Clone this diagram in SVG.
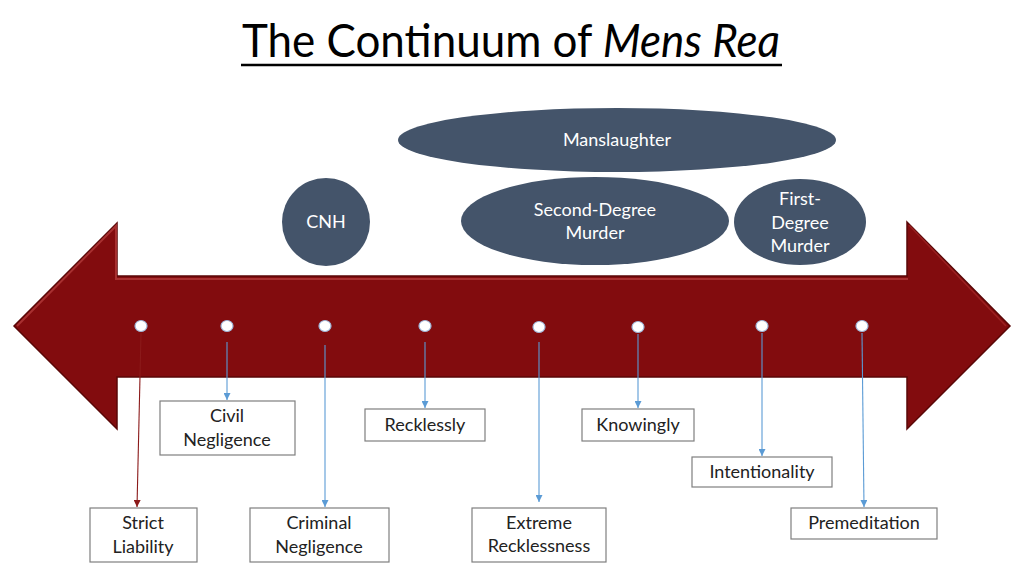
<svg xmlns="http://www.w3.org/2000/svg" width="1024" height="576" viewBox="0 0 1024 576">
<defs>
<style>
.t{font-family:Lato,"Open Sans","Liberation Sans",sans-serif;font-size:18px;text-anchor:middle;}
.w{fill:#ffffff;}
.k{fill:#222222;}
.box{fill:#ffffff;stroke:#7f7f7f;stroke-width:1.2;}
.ell{fill:#44546a;}
.dot{fill:#ffffff;stroke:#9fb6d8;stroke-width:1.2;}
.c{stroke:#5b9bd5;stroke-width:1.1;fill:none;marker-end:url(#ab);}
.cr{stroke:#8b1a1a;stroke-width:1.1;fill:none;marker-end:url(#ar);}
</style>
<marker id="ab" viewBox="0 0 10 10" refX="10" refY="5" markerWidth="7" markerHeight="7" orient="auto" markerUnits="userSpaceOnUse"><path d="M0,0 L10,5 L0,10 z" fill="#5b9bd5"/></marker>
<marker id="ar" viewBox="0 0 10 10" refX="10" refY="5" markerWidth="7" markerHeight="7" orient="auto" markerUnits="userSpaceOnUse"><path d="M0,0 L10,5 L0,10 z" fill="#8b1a1a"/></marker>
</defs>
<rect width="1024" height="576" fill="#ffffff"/>
<g id="title">
<text x="511" y="57" font-family="Lato,'Open Sans','Liberation Sans',sans-serif" font-size="46" fill="#000" text-anchor="middle" textLength="538" lengthAdjust="spacingAndGlyphs">The Continuum of <tspan font-style="italic">Mens Rea</tspan></text>
<line x1="241" y1="65" x2="782" y2="65" stroke="#000" stroke-width="2.5"/>
</g>
<g id="arrow">
<polygon points="14,326 117,223 117,276 907,276 907,222 1010,326 907,429 907,377 117,377 117,429" fill="#820c0e" stroke="#5a0707" stroke-width="1.5" stroke-linejoin="miter"/>
<polyline points="17,326 116,226 116,279 908,279" fill="none" stroke="#b23a3a" stroke-width="2" opacity="0.8"/>
<polyline points="909,225 1006,326" fill="none" stroke="#a52a2a" stroke-width="1.5" opacity="0.7"/>
</g>
<g id="ellipses">
<g id="manslaughter"><ellipse class="ell" cx="617" cy="140" rx="219" ry="32"/><text class="t w" x="617" y="146">Manslaughter</text></g>
<g id="cnh"><ellipse class="ell" cx="326" cy="222" rx="44" ry="44"/><text class="t w" x="326" y="228">CNH</text></g>
<g id="second-degree"><ellipse class="ell" cx="595" cy="221" rx="134" ry="44"/><text class="t w" x="595" y="216">Second-Degree</text><text class="t w" x="595" y="239">Murder</text></g>
<g id="first-degree"><ellipse class="ell" cx="800" cy="222" rx="66" ry="43"/><text class="t w" x="800" y="205">First-</text><text class="t w" x="800" y="229">Degree</text><text class="t w" x="800" y="252">Murder</text></g>
</g>
<g id="connectors">
<line class="cr" x1="141" y1="333" x2="137" y2="507"/>
<line class="c" x1="227" y1="342" x2="227" y2="400"/>
<line class="c" x1="325" y1="345" x2="325" y2="507"/>
<line class="c" x1="425" y1="342" x2="425" y2="408"/>
<line class="c" x1="539" y1="342" x2="539" y2="502"/>
<line class="c" x1="638" y1="334" x2="638" y2="408"/>
<line class="c" x1="762" y1="333" x2="762" y2="456"/>
<line class="c" x1="862" y1="333" x2="864" y2="507"/>
</g>
<g id="dots">
<ellipse class="dot" cx="141" cy="326" rx="6" ry="5.5"/>
<ellipse class="dot" cx="227" cy="326" rx="6" ry="5.5"/>
<ellipse class="dot" cx="325" cy="326" rx="6" ry="5.5"/>
<ellipse class="dot" cx="425" cy="326" rx="6" ry="5.5"/>
<ellipse class="dot" cx="539" cy="327" rx="6" ry="5.5"/>
<ellipse class="dot" cx="638" cy="327" rx="6" ry="5.5"/>
<ellipse class="dot" cx="762" cy="326" rx="6" ry="5.5"/>
<ellipse class="dot" cx="862" cy="326" rx="6" ry="5.5"/>
</g>
<g id="strict-liability"><rect class="box" x="90" y="508" width="107" height="54"/><text class="t k" x="143" y="529">Strict</text><text class="t k" x="143" y="553">Liability</text></g>
<g id="civil-negligence"><rect class="box" x="160" y="401" width="135" height="54"/><text class="t k" x="227" y="422">Civil</text><text class="t k" x="227" y="446">Negligence</text></g>
<g id="criminal-negligence"><rect class="box" x="250" y="508" width="139" height="54"/><text class="t k" x="319" y="529">Criminal</text><text class="t k" x="319" y="553">Negligence</text></g>
<g id="recklessly"><rect class="box" x="365" y="409" width="120" height="32"/><text class="t k" x="425" y="431">Recklessly</text></g>
<g id="knowingly"><rect class="box" x="582" y="409" width="112" height="32"/><text class="t k" x="638" y="431">Knowingly</text></g>
<g id="extreme-recklessness"><rect class="box" x="472" y="508" width="134" height="54"/><text class="t k" x="539" y="529">Extreme</text><text class="t k" x="539" y="552">Recklessness</text></g>
<g id="intentionality"><rect class="box" x="692" y="457" width="140" height="30"/><text class="t k" x="762" y="478">Intentionality</text></g>
<g id="premeditation"><rect class="box" x="791" y="508" width="146" height="31"/><text class="t k" x="864" y="529">Premeditation</text></g>
</svg>
